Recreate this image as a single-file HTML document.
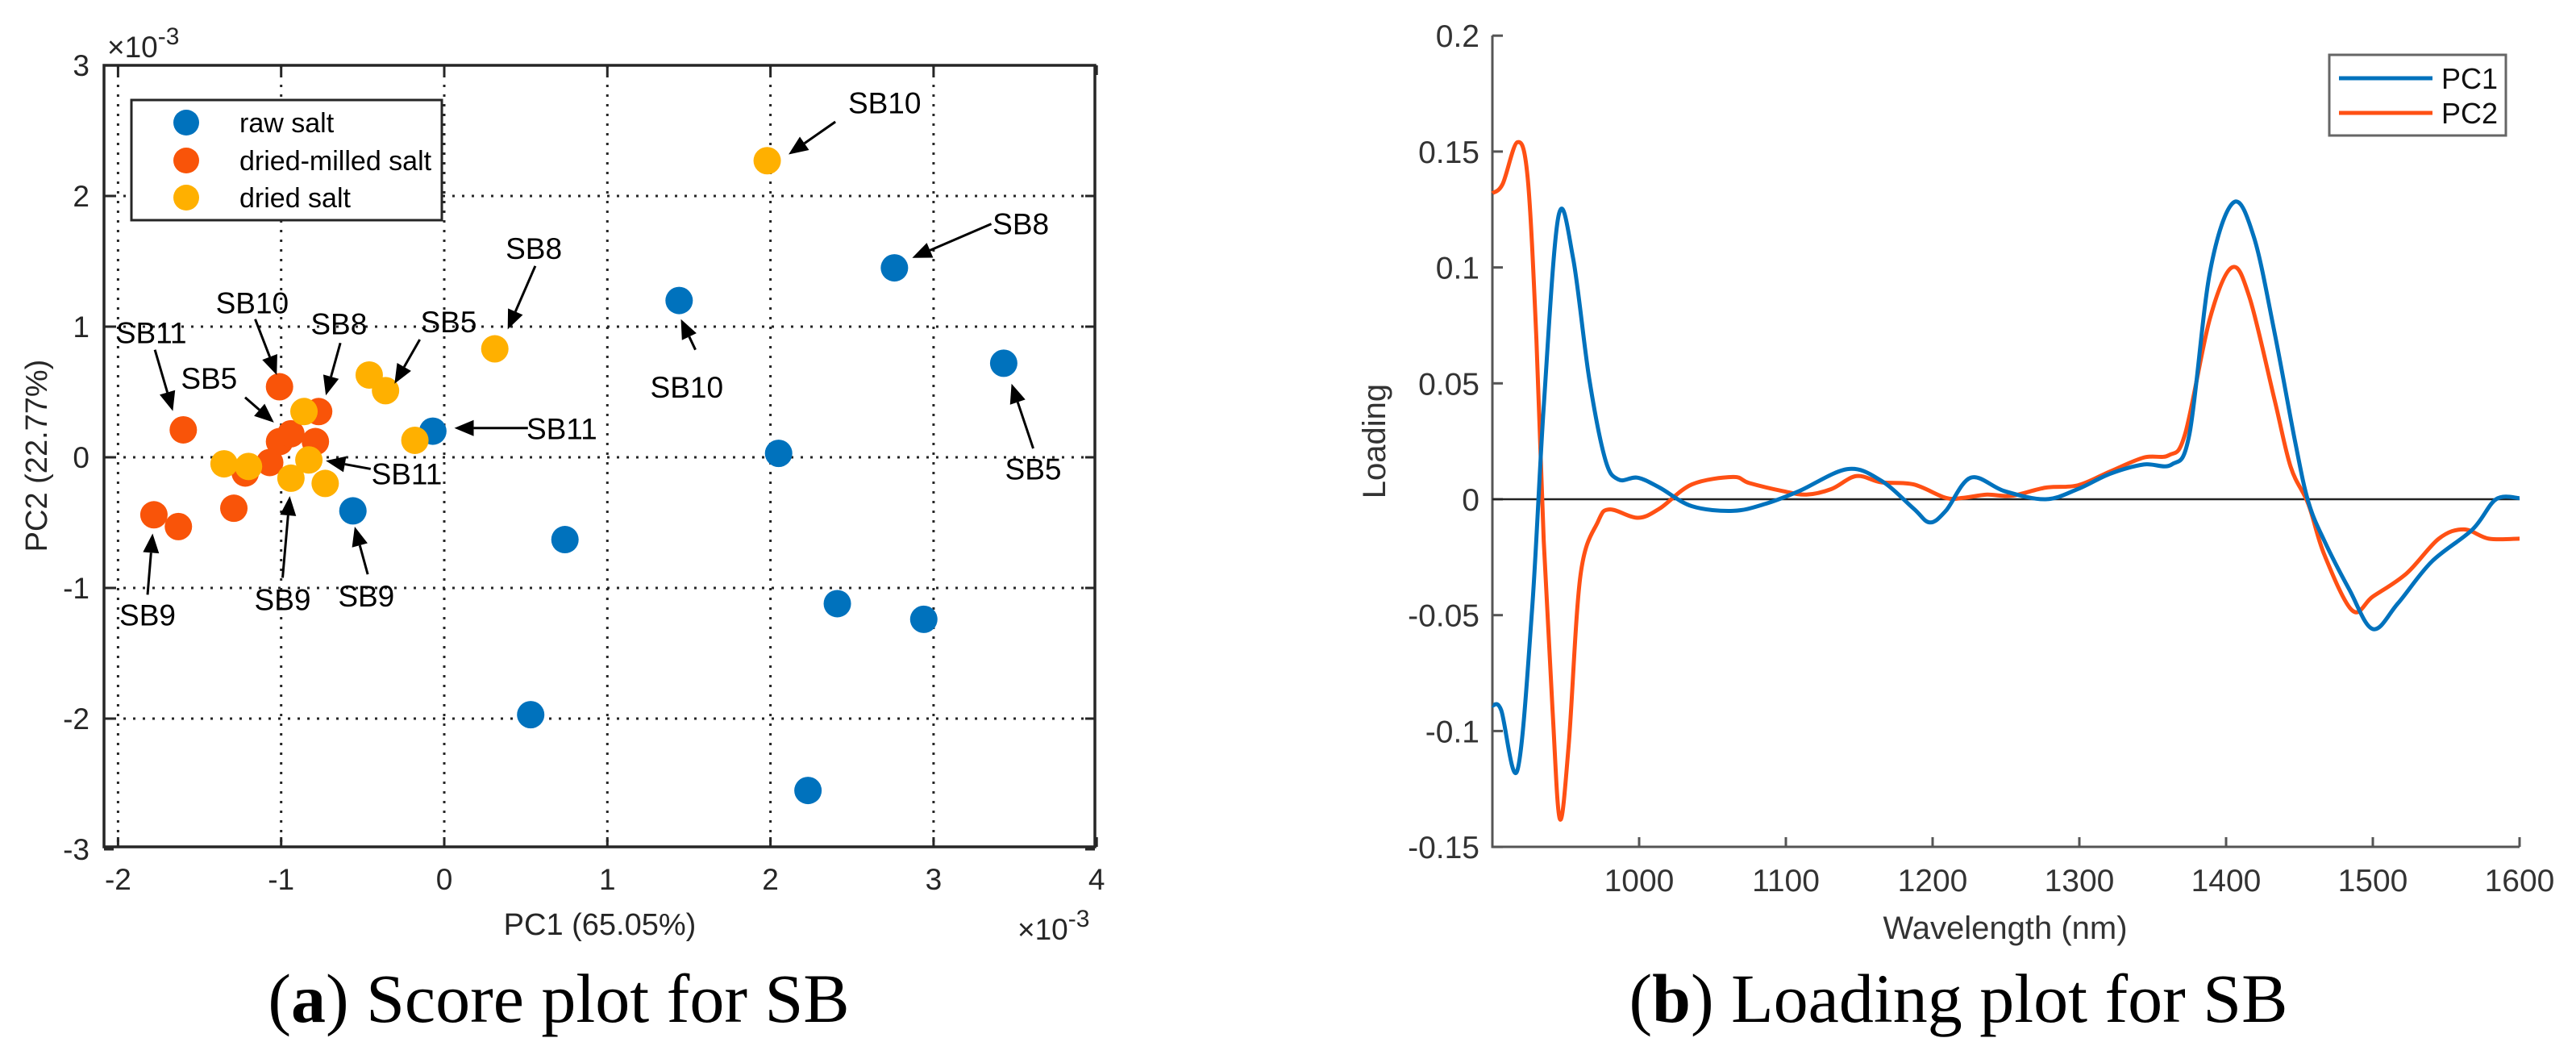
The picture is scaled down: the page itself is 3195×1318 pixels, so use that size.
<!DOCTYPE html>
<html><head><meta charset="utf-8">
<style>
html,body{margin:0;padding:0;background:#fff;}
svg{display:block;}
text{font-family:"Liberation Sans",sans-serif;}
.cap{font-family:"Liberation Serif",serif;}
</style></head>
<body>
<svg id="fig" width="3195" height="1318" viewBox="0 0 3195 1318" xmlns="http://www.w3.org/2000/svg">
<g id="left"></g>
<g id="right"></g>
<text class="cap" x="693" y="1267" font-size="86" text-anchor="middle" fill="#000">(<tspan font-weight="bold">a</tspan>) Score plot for SB</text>
<text class="cap" x="2429" y="1267" font-size="86" text-anchor="middle" fill="#000">(<tspan font-weight="bold">b</tspan>) Loading plot for SB</text>
</svg>
<script>
// ---------- Score plot data (units of 1e-3) ----------
const rawX = [-0.07, 1.44, 2.76, 3.43, 2.05, 0.74, -0.56, 2.41, 2.94, 0.53, 2.23];
const rawY = [0.20, 1.20, 1.45, 0.72, 0.03, -0.63, -0.41, -1.12, -1.24, -1.97, -2.55];
const millX = [-1.60, -1.01, -0.77, -1.01, -0.94, -0.79, -1.07, -1.22, -1.29, -1.78, -1.63];
const millY = [0.21, 0.54, 0.35, 0.12, 0.18, 0.12, -0.04, -0.12, -0.39, -0.44, -0.53];
const driedX = [1.98, 0.31, -0.46, -0.36, -0.18, -0.86, -0.83, -0.94, -0.73, -1.35, -1.20];
const driedY = [2.27, 0.83, 0.63, 0.51, 0.13, 0.35, -0.02, -0.16, -0.20, -0.05, -0.07];
const xTicks = [-2, -1, 0, 1, 2, 3, 4];
const yTicks = [-3, -2, -1, 0, 1, 2, 3];
const annLabels = ["SB10","SB8","SB5","SB10","SB11","SB8","SB5","SB8","SB10","SB11","SB5","SB11","SB9","SB9","SB9"];
const annTextX = [2.70,3.535,3.611,1.487,0.721,0.549,0.027,-0.646,-1.177,-1.796,-1.442,-0.230,-0.991,-0.478,-1.819];
const annTextY = [2.714,1.786,-0.089,0.536,0.219,1.599,1.036,1.021,1.182,0.953,0.604,-0.125,-1.089,-1.063,-1.208];
const annFromX = [2.398,3.354,3.611,1.540,0.513,0.558,-0.150,-0.637,-1.159,-1.774,-1.221,-0.451,-0.991,-0.469,-1.819];
const annFromY = [2.568,1.786,0.068,0.823,0.224,1.464,0.901,0.875,1.057,0.823,0.458,-0.089,-0.922,-0.896,-1.052];
const annToX = [2.111,2.869,3.478,1.451,0.062,0.389,-0.305,-0.726,-1.027,-1.664,-1.044,-0.726,-0.947,-0.549,-1.788];
const annToY = [2.318,1.526,0.563,1.057,0.224,0.979,0.563,0.474,0.630,0.354,0.266,-0.026,-0.297,-0.531,-0.583];

// ---------- Loading plot data ----------
const pc1Nm = [900,906,917,927,935,945,955,966,977,986,999,1014,1036,1064,1086,1109,1142,1165,1187,1198,1209,1226,1249,1277,1299,1321,1344,1363,1375,1389,1405,1419,1433,1447,1456,1467,1484,1500,1517,1540,1568,1584,1600];
const pc1Val = [-0.089,-0.091,-0.117,-0.048,0.040,0.122,0.104,0.052,0.017,0.0085,0.0093,0.005,-0.003,-0.005,-0.002,0.0035,0.013,0.008,-0.004,-0.010,-0.005,0.0093,0.0035,0,0.0044,0.011,0.015,0.015,0.028,0.098,0.128,0.113,0.072,0.025,-0.001,-0.018,-0.039,-0.056,-0.045,-0.027,-0.013,0,0.0005];
const pc2Nm = [900,907,917,924,930,935,941,946,952,960,972,980,999,1014,1036,1064,1075,1098,1114,1131,1148,1165,1187,1209,1221,1237,1254,1277,1299,1321,1344,1361,1372,1389,1404,1416,1433,1444,1456,1467,1486,1500,1523,1545,1562,1579,1600];
const pc2Val = [0.132,0.136,0.154,0.139,0.069,-0.018,-0.091,-0.138,-0.106,-0.033,-0.0096,-0.0044,-0.008,-0.004,0.0064,0.0096,0.007,0.0035,0.002,0.0044,0.010,0.0073,0.0064,0.0006,0.0006,0.002,0.0015,0.005,0.006,0.012,0.018,0.019,0.028,0.078,0.100,0.087,0.043,0.014,-0.002,-0.024,-0.048,-0.042,-0.032,-0.017,-0.013,-0.017,-0.017];
const wlTicks = [1000,1100,1200,1300,1400,1500,1600];
const ldTicks = [-0.15,-0.1,-0.05,0,0.05,0.1,0.15,0.2];
const ldTickLabels = ["-0.15","-0.1","-0.05","0","0.05","0.1","0.15","0.2"];

const NS = "http://www.w3.org/2000/svg";
function mk(parent, tag, attrs, txt){
  const e = document.createElementNS(NS, tag);
  for (const k in attrs) e.setAttribute(k, attrs[k]);
  if (txt !== undefined) e.textContent = txt;
  parent.appendChild(e);
  return e;
}

// ===== Score plot =====
(function(){
  const g = document.getElementById('left');
  const L=129, R=1358, T=81, B=1050;
  const xs = v => 551 + v*202.3;
  const ys = v => 567 - v*162;
  // grid
  xTicks.forEach(t=>{
    if (t>-2.05 && t<4) { const l = mk(g,'line',{x1:xs(t),x2:xs(t),y1:T,y2:B,stroke:'#262626','stroke-width':3,'stroke-dasharray':'3 9'});
        }
    const tx = mk(g,'text',{x:xs(t),y:1103,'font-size':37,'text-anchor':'middle',fill:'#262626'}, String(t));
     
    [[B,B-12],[T,T+12]].forEach(p=>{ const k=mk(g,'line',{x1:xs(t),x2:xs(t),y1:p[0],y2:p[1],stroke:'#262626','stroke-width':3});
        });
  });
  yTicks.forEach(t=>{
    if (t>-3 && t<3) { const l = mk(g,'line',{x1:L,x2:R,y1:ys(t),y2:ys(t),stroke:'#262626','stroke-width':3,'stroke-dasharray':'3 9'});
        }
    const tx = mk(g,'text',{x:111,y:ys(t)+13,'font-size':37,'text-anchor':'end',fill:'#262626'}, String(t));
     
    [[L,L+12],[R,R-12]].forEach(p=>{ const k=mk(g,'line',{x1:p[0],x2:p[1],y1:ys(t),y2:ys(t),stroke:'#262626','stroke-width':3});
        });
  });
  const box = mk(g,'rect',{x:L,y:T,width:R-L,height:B-T,fill:'none',stroke:'#262626','stroke-width':3.5});
   
  // exponent labels
  const e1 = mk(g,'text',{x:133,y:71,'font-size':37,fill:'#262626'}); e1.innerHTML='×10<tspan dy="-16" font-size="30">-3</tspan>';
   
  const e2 = mk(g,'text',{x:1262,y:1165,'font-size':37,fill:'#262626'}); e2.innerHTML='×10<tspan dy="-16" font-size="30">-3</tspan>';
   
  // axis titles
  const xt = mk(g,'text',{x:744,y:1159,'font-size':38,'text-anchor':'middle',fill:'#262626'},'PC1 (65.05%)');
   
  const yt = mk(g,'text',{x:0,y:0,'font-size':38,'text-anchor':'middle',fill:'#262626',transform:'translate(58,565) rotate(-90)'},'PC2 (22.77%)');
   
  // points
  const series = [[rawX,rawY,'#0072BD','raw-salt-point'],[millX,millY,'#F95409','dried-milled-salt-point'],[driedX,driedY,'#FFB000','dried-salt-point']];
  series.forEach(s=>{
    s[0].forEach((x,i)=>{
      const c = mk(g,'circle',{cx:xs(x),cy:ys(s[1][i]),r:17,fill:s[2]});
       
    });
  });
  // annotations
  annLabels.forEach((lab,i)=>{
    const x1=xs(annFromX[i]), y1=ys(annFromY[i]), x2=xs(annToX[i]), y2=ys(annToY[i]);
    const dx=x2-x1, dy=y2-y1, len=Math.hypot(dx,dy), ux=dx/len, uy=dy/len;
    const hl=24, hw=10;
    const bx=x2-ux*hl, by=y2-uy*hl;
    const ln = mk(g,'line',{x1:x1,y1:y1,x2:bx,y2:by,stroke:'#000','stroke-width':3});
     
    const hd = mk(g,'polygon',{points:`${x2},${y2} ${bx-uy*hw},${by+ux*hw} ${bx+uy*hw},${by-ux*hw}`,fill:'#000'});
     
    const t = mk(g,'text',{x:xs(annTextX[i]),y:ys(annTextY[i])+13,'font-size':37,'text-anchor':'middle',fill:'#000'},lab);
     
  });
  // legend
  const lg = mk(g,'g',{});  
  const lb = mk(lg,'rect',{x:163,y:124,width:385,height:149,fill:'#fff',stroke:'#262626','stroke-width':3});
   
  [['raw salt','#0072BD',152],['dried-milled salt','#F95409',199],['dried salt','#FFB000',245]].forEach(e=>{
    const c = mk(lg,'circle',{cx:231,cy:e[2],r:16,fill:e[1]});
     
    const t = mk(lg,'text',{x:297,y:e[2]+12,'font-size':34,fill:'#000'},e[0]);
     
  });
})();

// ===== Loading plot =====
(function(){
  const g = document.getElementById('right');
  const L=1851, R=3125, T=44, B=1050;
  const xs = v => 1851 + (v-900)*1.82;
  const ys = v => 619 - v*2874;
  const ax = mk(g,'path',{d:`M${L},${T} V${B} H${R}`,fill:'none',stroke:'#555','stroke-width':3});
   
  wlTicks.forEach(t=>{
    const k = mk(g,'line',{x1:xs(t),x2:xs(t),y1:B,y2:B-12,stroke:'#555','stroke-width':3});
     
    const tx = mk(g,'text',{x:xs(t),y:1105,'font-size':39,'text-anchor':'middle',fill:'#333'},String(t));
     
  });
  ldTicks.forEach((t,i)=>{
    const k = mk(g,'line',{x1:L,x2:L+13,y1:ys(t),y2:ys(t),stroke:'#555','stroke-width':3});
     
    const tx = mk(g,'text',{x:1835,y:ys(t)+14,'font-size':39,'text-anchor':'end',fill:'#333'},ldTickLabels[i]);
     
  });
  const z = mk(g,'line',{x1:L,x2:R,y1:ys(0),y2:ys(0),stroke:'#222','stroke-width':2.5});
   
  function smooth(X,Y){
    const p = X.map((x,i)=>[xs(x),ys(Y[i])]);
    let d = `M${p[0][0]},${p[0][1]}`;
    for (let i=0;i<p.length-1;i++){
      const p0=p[Math.max(0,i-1)], p1=p[i], p2=p[i+1], p3=p[Math.min(p.length-1,i+2)];
      const c1=[p1[0]+(p2[0]-p0[0])/6, p1[1]+(p2[1]-p0[1])/6];
      const c2=[p2[0]-(p3[0]-p1[0])/6, p2[1]-(p3[1]-p1[1])/6];
      d += ` C${c1[0]},${c1[1]} ${c2[0]},${c2[1]} ${p2[0]},${p2[1]}`;
    }
    return d;
  }
  const l2 = mk(g,'path',{d:smooth(pc2Nm,pc2Val),fill:'none',stroke:'#FF5014','stroke-width':5,'stroke-linejoin':'round'});
   
  const l1 = mk(g,'path',{d:smooth(pc1Nm,pc1Val),fill:'none',stroke:'#0072BD','stroke-width':5,'stroke-linejoin':'round'});
   
  const xt = mk(g,'text',{x:2487,y:1164,'font-size':40,'text-anchor':'middle',fill:'#333'},'Wavelength (nm)');
   
  const yt = mk(g,'text',{x:0,y:0,'font-size':40,'text-anchor':'middle',fill:'#333',transform:'translate(1718,547) rotate(-90)'},'Loading');
   
  const lg = mk(g,'g',{});  
  const lb = mk(lg,'rect',{x:2889,y:68,width:219,height:100,fill:'#fff',stroke:'#666','stroke-width':3});
   
  [['PC1','#0072BD',97],['PC2','#FF5014',140]].forEach(e=>{
    const l = mk(lg,'line',{x1:2901,x2:3017,y1:e[2],y2:e[2],stroke:e[1],'stroke-width':5});
     
    const t = mk(lg,'text',{x:3028,y:e[2]+13,'font-size':36,fill:'#111'},e[0]);
     
  });
})();
</script>
</body></html>
